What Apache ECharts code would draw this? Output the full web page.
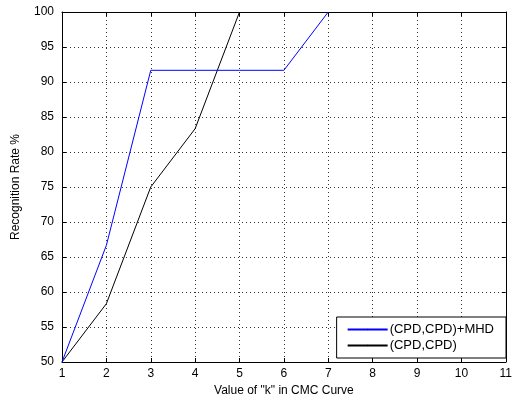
<!DOCTYPE html>
<html>
<head>
<meta charset="utf-8">
<script src="https://cdn.jsdelivr.net/npm/echarts@6/dist/echarts.min.js"></script>
<style>
  html, body { margin: 0; padding: 0; background: #fff; }
  #chart { width: 515px; height: 402px; }
</style>
</head>
<body>
<div id="chart"></div>
<script>
// values (visible part of each line)
const kValues = [1, 2, 3, 4, 5, 6, 7];
const withMhd = [50, 66.67, 91.67, 91.67, 91.67, 91.67, 100];
const cpdOnly = [50, 58.33, 75, 83.33, 100];
const seriesNames = ['(CPD,CPD)+MHD', '(CPD,CPD)'];
const seriesColors = ['#0000ff', '#000000'];

const font = 'Liberation Sans, Arial, sans-serif';

const pairs = (ys) => ys.map((y, i) => [kValues[i], y]);

const tickStyle = { show: true, inside: true, length: 4, lineStyle: { color: '#000' } };
const axisLine = { show: true, onZero: false, lineStyle: { color: '#000', width: 1 } };
const gridLine = { show: true, lineStyle: { color: '#333', type: [1, 3], width: 1 } };
const labelStyle = { color: '#000', fontFamily: font, fontSize: 12 };

const chart = echarts.init(document.getElementById('chart'), null, { renderer: 'canvas' });
chart.setOption({
  animation: false,
  backgroundColor: '#fff',
  grid: { left: 62, right: 6, top: 12, bottom: 40 },
  legend: {
    orient: 'vertical',
    right: 9,
    bottom: 44,
    backgroundColor: '#fff',
    borderColor: '#000',
    borderWidth: 1,
    borderRadius: 0,
    padding: [6, 12, 6, 10],
    itemGap: 3,
    itemWidth: 40,
    itemHeight: 2,
    textStyle: { color: '#000', fontFamily: font, fontSize: 13, padding: [0, 0, 0, -3] },
    data: seriesNames
  },
  xAxis: [{
    type: 'value', min: 1, max: 11, interval: 1,
    name: 'Value of "k" in CMC Curve', nameLocation: 'middle', nameGap: 22,
    nameTextStyle: { color: '#000', fontFamily: font, fontSize: 12 },
    axisLine, axisTick: tickStyle, axisLabel: { ...labelStyle, margin: 6 },
    splitLine: gridLine
  }, {
    type: 'value', min: 1, max: 11, interval: 1, position: 'top',
    axisLine, axisTick: tickStyle, axisLabel: { show: false }, splitLine: { show: false }
  }],
  yAxis: [{
    type: 'value', min: 50, max: 100, interval: 5,
    name: 'Recognition Rate %', nameLocation: 'middle', nameGap: 40,
    nameTextStyle: { color: '#000', fontFamily: font, fontSize: 12 },
    axisLine, axisTick: tickStyle, axisLabel: { ...labelStyle, margin: 8 },
    splitLine: gridLine
  }, {
    type: 'value', min: 50, max: 100, interval: 5, position: 'right',
    axisLine, axisTick: tickStyle, axisLabel: { show: false }, splitLine: { show: false }
  }],
  series: [{
    name: seriesNames[0], type: 'line', data: pairs(withMhd),
    symbol: 'none', lineStyle: { color: seriesColors[0], width: 1 }, itemStyle: { color: seriesColors[0] },
    z: 3
  }, {
    name: seriesNames[1], type: 'line', data: pairs(cpdOnly),
    symbol: 'none', lineStyle: { color: seriesColors[1], width: 1 }, itemStyle: { color: seriesColors[1] },
    z: 2
  }]
});
</script>
</body>
</html>
